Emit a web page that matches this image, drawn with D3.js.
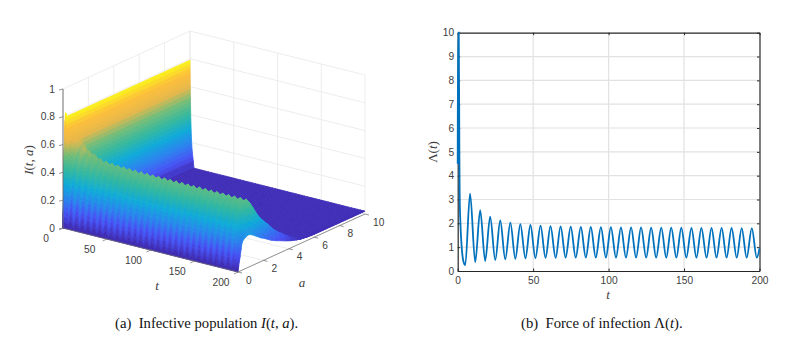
<!DOCTYPE html>
<html>
<head>
<meta charset="utf-8">
<style>
  body { margin: 0; background: #fff; }
  svg { display: block; }
  .tick-label { font-family: "Liberation Sans", Arial, sans-serif; font-size: 10.2px; fill: #404040; }
  .math { font-family: "Liberation Serif", serif; font-size: 13px; fill: #404040; }
  .caption { font-family: "Liberation Serif", serif; font-size: 14.7px; fill: #111; }
</style>
<script src="https://cdn.jsdelivr.net/npm/d3@7"></script>
</head>
<body>
<div id="diagram"></div>
<script>
// Force of infection: first spike, then the troughs and peaks
const decayT = [0, 0.2, 0.7, 1.1, 1.3, 1.8, 2.65, 3.8];
const decayV = [4.5, 10, 10, 5, 3.2, 2, 1, 0.4];
const troughT = [5, 11.6, 18.2, 24.9, 31.5, 38.2, 44.9, 51.5, 58.2, 64.9, 71.5, 78.2, 84.9, 91.5, 98.2, 104.9, 111.5, 118.2, 124.9, 131.5, 138.2, 144.9, 151.5, 158.2, 164.9, 171.5, 178.2, 184.9, 191.5, 198.2];
const troughV = [0.25, 0.37, 0.42, 0.46, 0.49, 0.51, 0.53, 0.54, 0.55, 0.55, 0.56, 0.56, 0.56, 0.56, 0.56, 0.56, 0.56, 0.56, 0.56, 0.56, 0.56, 0.56, 0.56, 0.56, 0.56, 0.56, 0.56, 0.56, 0.56, 0.56];
const peakT = [8.2, 14.9, 21.5, 28.2, 34.9, 41.5, 48.2, 54.9, 61.5, 68.2, 74.9, 81.6, 88.2, 94.9, 101.5, 108.2, 114.9, 121.5, 128.2, 134.9, 141.5, 148.2, 154.9, 161.5, 168.2, 174.9, 181.5, 188.2, 194.9];
const peakV = [3.25, 2.55, 2.28, 2.12, 2.03, 1.97, 1.93, 1.9, 1.88, 1.87, 1.86, 1.85, 1.85, 1.84, 1.84, 1.83, 1.83, 1.83, 1.82, 1.82, 1.82, 1.82, 1.81, 1.81, 1.81, 1.81, 1.81, 1.8, 1.8];
const lambdaEndT = [200];
const lambdaEndV = [0.95];

// Surface I(t,a): values read across age
const ageGrid = [0, 0.02, 0.04, 0.06, 0.08, 0.1, 0.13, 0.16, 0.2, 0.24, 0.28, 0.32, 0.36, 0.4, 0.45, 0.5, 0.55, 0.6, 0.7, 0.8, 0.9, 1, 1.2, 1.4, 1.6, 1.8, 2, 2.3, 2.6, 3, 3.4, 3.8, 4.2, 4.6, 5, 5.5, 6, 7, 8, 9, 10];
const ageProfile = [0, 0.03, 0.06, 0.09, 0.12, 0.145, 0.18, 0.21, 0.245, 0.28, 0.31, 0.335, 0.36, 0.38, 0.405, 0.425, 0.44, 0.455, 0.47, 0.485, 0.495, 0.5, 0.47, 0.43, 0.39, 0.35, 0.32, 0.28, 0.245, 0.19, 0.15, 0.115, 0.08, 0.05, 0.025, 0.018, 0.015, 0.015, 0.015, 0.015, 0.015];
const rippleDepth = [0, 0.55, 0.5, 0.42, 0.33, 0.25, 0.18, 0.13, 0.09, 0.06, 0.045, 0.035, 0.03, 0.025, 0.025, 0.025, 0.025, 0.025, 0.02, 0.02, 0.02, 0.02, 0.02, 0.02, 0.02, 0.02, 0.02, 0.015, 0.015, 0.01, 0.01, 0.01, 0.01, 0.01, 0, 0, 0, 0, 0, 0, 0];
const wallEdge = [0, 0.15, 0.3, 0.45, 0.6, 0.72, 0.85, 0.97, 1.04, 1.03, 1.01, 1, 1, 1, 1, 1, 1, 1, 1, 1, 1, 1, 1, 1, 1, 1, 1, 1, 1, 1, 1, 1, 1, 1, 1, 1, 1, 1, 1, 1, 1];
// the edge at t = 200 sits lower than the crest behind it
const endProfile = [0, 0.015, 0.03, 0.045, 0.06, 0.07, 0.085, 0.1, 0.125, 0.15, 0.175, 0.195, 0.205, 0.21, 0.215, 0.22, 0.222, 0.225, 0.23, 0.233, 0.232, 0.228, 0.215, 0.2, 0.185, 0.17, 0.16, 0.14, 0.12, 0.1, 0.083, 0.065, 0.05, 0.038, 0.03, 0.024, 0.018, 0.012, 0.01, 0.008, 0.006];

// Fall of the initial plateau with t
const wallT = [0, 0.04, 0.08, 0.12, 0.17, 0.22, 0.28, 0.34, 0.4, 0.47, 0.55, 0.63, 0.72, 0.82, 0.93, 1.05, 1.2, 1.35, 1.55, 1.75, 2, 2.3, 2.7, 3.2, 3.8, 4.5];
const wallV = [0.79, 0.76, 0.73, 0.7, 0.67, 0.64, 0.61, 0.58, 0.55, 0.52, 0.49, 0.46, 0.43, 0.4, 0.37, 0.34, 0.31, 0.28, 0.25, 0.22, 0.19, 0.16, 0.13, 0.1, 0.07, 0.02];

// Slow settling of the crest, and the drop at the last rows
const crestT = [0, 5, 12, 30, 50, 80, 200];
const crestV = [1.3, 1.2, 1.08, 0.97, 0.95, 0.94, 0.93];
const endT = [196.5, 197.2, 197.9, 198.6, 199.3, 200];
const endFade = [1, 0.8, 0.6, 0.4, 0.2, 0];

const zTicks = [0, 0.2, 0.4, 0.6, 0.8, 1];
const surfTTicks = [0, 50, 100, 150, 200];
const surfATicks = [0, 2, 4, 6, 8, 10];
const lineXTicks = [0, 50, 100, 150, 200];
const lineYTicks = [0, 1, 2, 3, 4, 5, 6, 7, 8, 9, 10];

const parulaStops = ["#3e26a8", "#4852f5", "#2a84ee", "#0fabd9", "#33b8a1", "#70bd7b", "#e8b84a", "#fdbf3a", "#f9fb15"];

const svg = d3.select("#diagram").append("svg")
    .attr("width", 786)
    .attr("height", 339);

// ---- (a) surface, parallel projection ----
const originX = 63, originY = 228;
const tToX = d3.scaleLinear().domain([0, 200]).range([0, 175]);
const tToY = d3.scaleLinear().domain([0, 200]).range([0, 44]);
const aToX = d3.scaleLinear().domain([0, 10]).range([0, 127]);
const aToY = d3.scaleLinear().domain([0, 10]).range([0, -58]);
const zToY = d3.scaleLinear().domain([0, 1]).range([0, -139]);

function project(t, a, z) {
    return [originX + tToX(t) + aToX(a), originY + tToY(t) + aToY(a) + zToY(z)];
}

const color = d3.scaleLinear()
    .domain(parulaStops.map((c, i) => i / (parulaStops.length - 1) * 0.8))
    .range(parulaStops)
    .clamp(true);

function seg(g, p, q, stroke, width) {
    g.append("line")
        .attr("x1", p[0]).attr("y1", p[1])
        .attr("x2", q[0]).attr("y2", q[1])
        .attr("stroke", stroke)
        .attr("stroke-width", width);
}

// back planes and floor
const back = svg.append("g");
const gridColor = "#e9e9e9";
zTicks.forEach(z => {
    seg(back, project(0, 0, z), project(0, 10, z), gridColor, 0.8);
    seg(back, project(0, 10, z), project(200, 10, z), gridColor, 0.8);
});
surfTTicks.forEach(t => {
    seg(back, project(t, 0, 0), project(t, 10, 0), gridColor, 0.8);
    seg(back, project(t, 10, 0), project(t, 10, 1), gridColor, 0.8);
});
surfATicks.forEach(a => {
    seg(back, project(0, a, 0), project(200, a, 0), gridColor, 0.8);
    seg(back, project(0, a, 0), project(0, a, 1), gridColor, 0.8);
});

// rows of the grid: plateau fall, then Lambda extremes, then the end drop
const lambdaPoints = decayT.map((t, i) => [t, decayV[i]])
    .concat(troughT.map((t, i) => [t, troughV[i]]))
    .concat(peakT.map((t, i) => [t, peakV[i]]))
    .concat(lambdaEndT.map((t, i) => [t, lambdaEndV[i]]))
    .sort((p, q) => p[0] - q[0]);

const wallAt = d3.scaleLinear().domain(wallT).range(wallV).clamp(true);
const crestAt = d3.scaleLinear().domain(crestT).range(crestV).clamp(true);
const fadeAt = d3.scaleLinear().domain(endT).range(endFade).clamp(true);
const rippleAt = d3.scaleLinear().domain([0.56, 1.85]).range([-1, 1]).clamp(true);

const lambdaRows = troughT.concat(peakT).sort(d3.ascending).filter(t => t > 4.5 && t < endT[0]);
const lambdaByT = new Map(lambdaPoints);
const rowT = wallT.concat(lambdaRows, endT);

function surfaceZ(t, j) {
    const lam = lambdaByT.has(t) && t > 4.5 && t < endT[0] ? rippleAt(lambdaByT.get(t)) : 0;
    const bulk = ageProfile[j] * crestAt(t) * (1 + rippleDepth[j] * lam);
    const fade = fadeAt(t);
    const settled = endProfile[j] + (bulk - endProfile[j]) * fade;
    return Math.max(settled, wallAt(t) * wallEdge[j]);
}

// painter's order: far rows first, high ages first
const cells = [];
for (let i = 0; i < rowT.length - 1; i++) {
    for (let j = ageGrid.length - 2; j >= 0; j--) {
        const t0 = rowT[i], t1 = rowT[i + 1], a0 = ageGrid[j], a1 = ageGrid[j + 1];
        const z00 = surfaceZ(t0, j), z01 = surfaceZ(t0, j + 1), z10 = surfaceZ(t1, j), z11 = surfaceZ(t1, j + 1);
        cells.push({
            pts: [project(t0, a0, z00), project(t0, a1, z01), project(t1, a1, z11), project(t1, a0, z10)],
            z: (z00 + z01 + z10 + z11) / 4
        });
    }
}

svg.append("g")
    .selectAll("path")
    .data(cells)
    .join("path")
    .attr("d", d => "M" + d.pts.join("L") + "Z")
    .attr("fill", d => color(d.z))
    .attr("stroke", d => color(d.z))
    .attr("stroke-width", 0.8)
    .attr("stroke-linejoin", "round");

// axis lines and ticks of the surface
const axes3d = svg.append("g");
const axisColor = "#6a6a6a";
seg(axes3d, project(0, 0, 0), project(0, 0, 1), axisColor, 0.9);
seg(axes3d, project(0, 0, 0), project(200, 0, 0), axisColor, 0.7);
seg(axes3d, project(200, 0, 0), project(200, 10, 0), axisColor, 0.7);

zTicks.forEach(z => {
    const p = project(0, 0, z);
    seg(axes3d, [p[0] - 4, p[1] + 1], p, axisColor, 0.7);
    axes3d.append("text").attr("class", "tick-label")
        .attr("x", p[0] - 8).attr("y", p[1] + 3.5)
        .attr("text-anchor", "end")
        .text(z);
});
surfTTicks.forEach(t => {
    const p = project(t, 0, 0);
    seg(axes3d, [p[0] - 4, p[1] + 2], p, axisColor, 0.7);
    axes3d.append("text").attr("class", "tick-label")
        .attr("x", p[0] - 17).attr("y", p[1] + 14)
        .attr("text-anchor", "middle")
        .text(t);
});
surfATicks.forEach(a => {
    const p = project(200, a, 0);
    seg(axes3d, [p[0] + 4, p[1] + 1], p, axisColor, 0.7);
    axes3d.append("text").attr("class", "tick-label")
        .attr("x", p[0] + 8).attr("y", p[1] + 11.5)
        .text(a);
});

axes3d.append("text").attr("class", "math")
    .attr("transform", "translate(33,160) rotate(-90)")
    .attr("text-anchor", "middle")
    .html('<tspan font-style="italic">I</tspan>(<tspan font-style="italic">t</tspan>, <tspan font-style="italic">a</tspan>)');
axes3d.append("text").attr("class", "math")
    .attr("x", 157).attr("y", 290).attr("text-anchor", "middle")
    .attr("font-style", "italic").text("t");
axes3d.append("text").attr("class", "math")
    .attr("x", 302).attr("y", 287).attr("text-anchor", "middle")
    .attr("font-style", "italic").text("a");

// ---- (b) Lambda(t) line ----
const x = d3.scaleLinear().domain([0, 200]).range([457.7, 759.5]);
const y = d3.scaleLinear().domain([0, 10]).range([271, 32.7]);

const plot = svg.append("g");
plot.append("g").selectAll("line")
    .data(lineYTicks.slice(1, -1))
    .join("line")
    .attr("x1", x(0)).attr("x2", x(200))
    .attr("y1", d => y(d)).attr("y2", d => y(d))
    .attr("stroke", "#e2e2e2")
    .attr("stroke-width", 1.2);
plot.append("g").selectAll("line")
    .data(lineXTicks.slice(1, -1))
    .join("line")
    .attr("x1", d => x(d)).attr("x2", d => x(d))
    .attr("y1", y(0)).attr("y2", y(10))
    .attr("stroke", "#e2e2e2")
    .attr("stroke-width", 1.2);

function styleAxis(g) {
    g.selectAll("path").attr("stroke", "#262626").attr("stroke-width", 1.2);
    g.selectAll("line").attr("stroke", "#262626");
    g.selectAll("text").attr("class", "tick-label").attr("font-family", null).attr("font-size", null);
    g.attr("font-family", null).attr("font-size", null);
}

plot.append("g").attr("transform", `translate(0,${y(0)})`)
    .call(d3.axisBottom(x).tickValues(lineXTicks).tickSize(-2.5).tickSizeOuter(0).tickPadding(6))
    .call(styleAxis);
plot.append("g").attr("transform", `translate(0,${y(10)})`)
    .call(d3.axisTop(x).tickValues(lineXTicks).tickSize(-2.5).tickSizeOuter(0).tickFormat(""))
    .call(styleAxis);
plot.append("g").attr("transform", `translate(${x(0)},0)`)
    .call(d3.axisLeft(y).tickValues(lineYTicks).tickSize(-2.5).tickSizeOuter(0).tickPadding(3.5))
    .call(styleAxis);
plot.append("g").attr("transform", `translate(${x(200)},0)`)
    .call(d3.axisRight(y).tickValues(lineYTicks).tickSize(-2.5).tickSizeOuter(0).tickFormat(""))
    .call(styleAxis);

const lineGen = d3.line()
    .x(d => x(d[0]))
    .y(d => y(d[1]))
    .curve(d3.curveMonotoneX);

plot.append("path")
    .attr("d", lineGen(lambdaPoints))
    .attr("fill", "none")
    .attr("stroke", "#0072BD")
    .attr("stroke-width", 1.8);

plot.append("text").attr("class", "math")
    .attr("x", 608).attr("y", 299).attr("text-anchor", "middle")
    .attr("font-style", "italic").text("t");
plot.append("text").attr("class", "math")
    .attr("transform", "translate(437,152) rotate(-90)")
    .attr("text-anchor", "middle")
    .html('Λ(<tspan font-style="italic">t</tspan>)');

// captions
svg.append("text").attr("class", "caption")
    .attr("x", 115).attr("y", 328).attr("xml:space", "preserve")
    .html('(a)  Infective population <tspan font-style="italic">I</tspan>(<tspan font-style="italic">t</tspan>, <tspan font-style="italic">a</tspan>).');
svg.append("text").attr("class", "caption")
    .attr("x", 521).attr("y", 328).attr("xml:space", "preserve")
    .html('(b)  Force of infection Λ(<tspan font-style="italic">t</tspan>).');
</script>
</body>
</html>
